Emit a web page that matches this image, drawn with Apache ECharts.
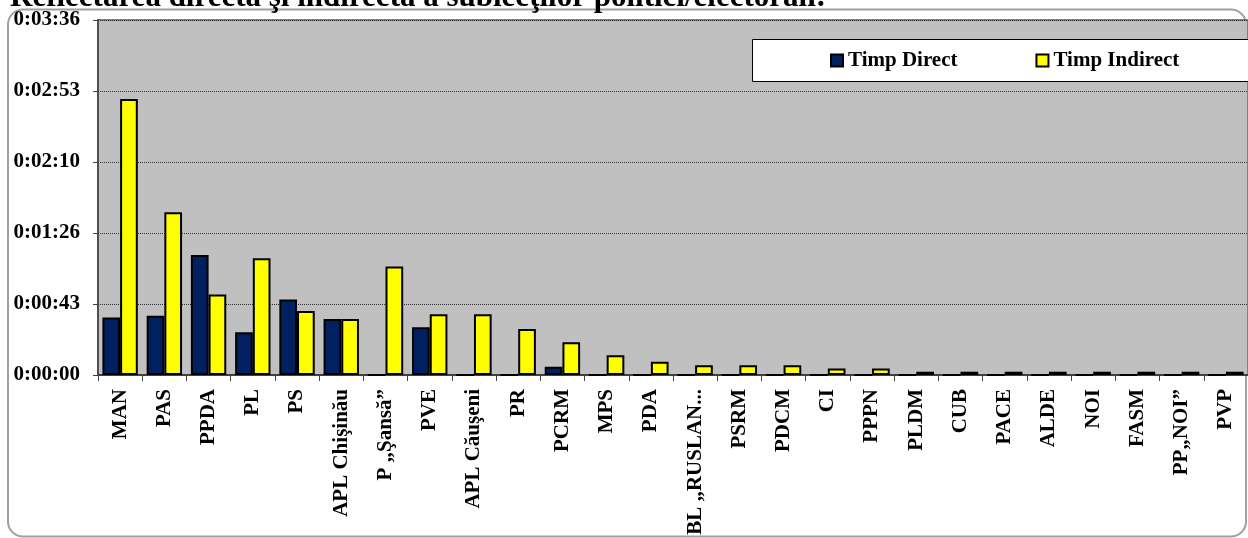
<!DOCTYPE html>
<html>
<head>
<meta charset="utf-8">
<script src="https://cdn.jsdelivr.net/npm/echarts@6/dist/echarts.min.js"></script>
<style>
html,body{margin:0;padding:0;background:#fff;}
#chart{width:1248px;height:538px;}
</style>
</head>
<body>
<div id="chart"></div>
<script>
// ---- data (values in seconds) ----
const titleText = 'Reflectarea directă şi indirectă a subiecţilor politici/electorali:';
const categories = ['MAN','PAS','PPDA','PL','PS','APL Chişinău','P „Şansă”','PVE','APL Căuşeni','PR','PCRM','MPS','PDA','BL „RUSLAN...','PSRM','PDCM','CI','PPPN','PLDM','CUB','PACE','ALDE','NOI','FASM','PP„NOI”','PVP'];
const seriesNames = ['Timp Direct','Timp Indirect'];
const timpDirect   = [35, 36, 73, 26, 46, 34, 0, 29, 0, 0, 5, 0, 0, 0, 0, 0, 0, 0, 0, 0, 0, 0, 0, 0, 0, 0];
const timpIndirect = [168, 99, 49, 71, 39, 34, 66, 37, 37, 28, 20, 12, 8, 6, 6, 6, 4, 4, 2, 2, 2, 2, 2, 2, 2, 2];
const yTickLabels = ['0:00:00','0:00:43','0:01:26','0:02:10','0:02:53','0:03:36'];
const yMax = 216;
const yInterval = 43.2;

const serif = "'Liberation Serif','Times New Roman',serif";
const chart = echarts.init(document.getElementById('chart'), null, {renderer:'canvas'});
chart.setOption({
  animation: false,
  backgroundColor: '#ffffff',
  graphic: [
    {type:'rect', z:-100, shape:{x:8, y:9.5, width:1238, height:527, r:15},
     style:{fill:'none', stroke:'#a0a0a0', lineWidth:2}},
    {type:'text', z:10, x:10, y:-2,
     style:{text:titleText, font:"bold 31px "+serif, fill:'#000', verticalAlign:'middle', align:'left'}},
    {type:'rect', z:5, shape:{x:752.5, y:39.5, width:520, height:42},
     style:{fill:'#fff', stroke:'#000', lineWidth:1}}
  ],
  legend: {
    data: seriesNames,
    orient: 'horizontal',
    left: 830, top: 50,
    padding: 0,
    z: 10,
    itemGap: 78, itemWidth: 12, itemHeight: 12,
    icon: 'rect',
    textStyle:{fontFamily:serif, fontWeight:'bold', fontSize:21, color:'#000'}
  },
  grid: {left:98, top:20, width:1157, height:355, show:true, backgroundColor:'#c0c0c0', borderColor:'#808080', borderWidth:2},
  xAxis: {
    type:'category', data:categories,
    axisLine:{lineStyle:{color:'#404040', width:2}},
    axisTick:{show:true, length:6, lineStyle:{color:'#404040', width:1}},
    axisLabel:{rotate:90, interval:0, margin:14, fontFamily:serif, fontWeight:'bold', fontSize:21, color:'#000'}
  },
  yAxis: {
    type:'value', min:0, max:yMax, interval:yInterval,
    axisLine:{show:true, lineStyle:{color:'#404040', width:1.5}},
    axisTick:{show:true, length:5, lineStyle:{color:'#404040'}},
    splitLine:{show:true, lineStyle:{color:'#333', type:'dotted', width:1}},
    axisLabel:{margin:18, fontFamily:serif, fontWeight:'bold', fontSize:21, color:'#000',
      formatter:(v, i) => yTickLabels[i] !== undefined ? yTickLabels[i] : ''}
  },
  series: [
    {name:seriesNames[0], type:'bar', data:timpDirect, barWidth:'40%', barGap:'0%',
     itemStyle:{color:'#002060', borderColor:'#000', borderWidth:2}},
    {name:seriesNames[1], type:'bar', data:timpIndirect, barWidth:'40%', barGap:'0%',
     itemStyle:{color:'#ffff00', borderColor:'#000', borderWidth:2}}
  ]
});
</script>
</body>
</html>
